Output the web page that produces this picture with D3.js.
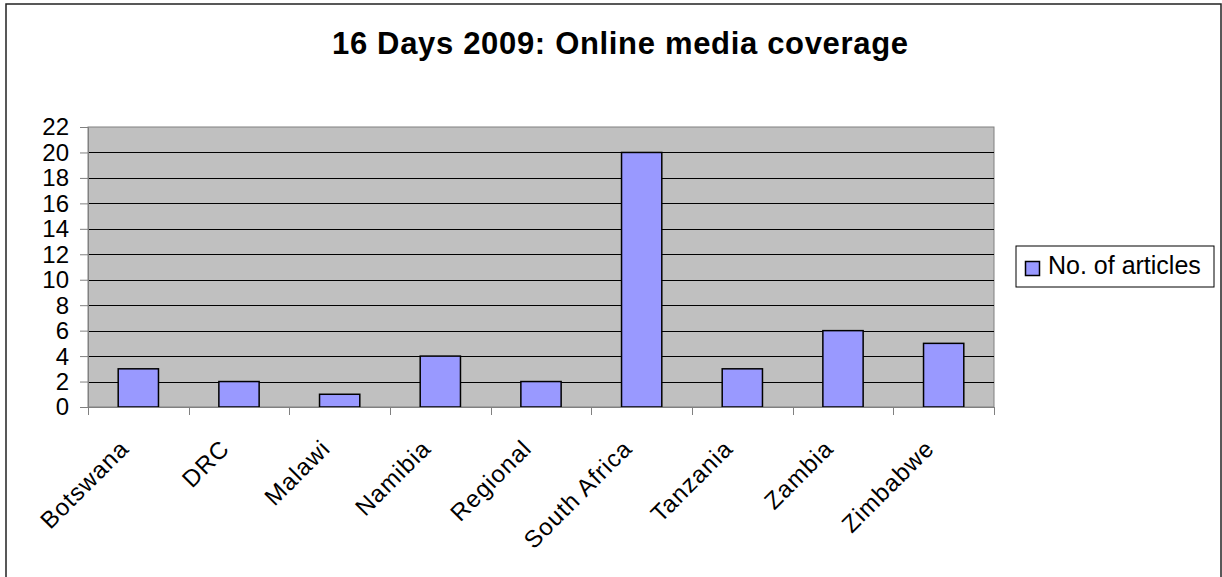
<!DOCTYPE html>
<html>
<head>
<meta charset="utf-8">
<script src="https://cdn.jsdelivr.net/npm/d3@7"></script>
<style>
  body { margin: 0; background: #fff; }
  text { font-family: "Liberation Sans", Arial, sans-serif; fill: #000; }
</style>
</head>
<body>
<div id="chart"></div>
<script>
const categories = ["Botswana", "DRC", "Malawi", "Namibia", "Regional", "South Africa", "Tanzania", "Zambia", "Zimbabwe"];
const articles = [3, 2, 1, 4, 2, 20, 3, 6, 5];
const yTicks = [0, 2, 4, 6, 8, 10, 12, 14, 16, 18, 20, 22];
const seriesName = "No. of articles";
const title = "16 Days 2009: Online media coverage";

const width = 1222;
const height = 577;
const plot = { left: 88, right: 994, top: 127, bottom: 407 };

const svg = d3.select("#chart")
  .append("svg")
  .attr("width", width)
  .attr("height", height);

// outer frame
svg.append("rect")
  .attr("x", 6)
  .attr("y", 4)
  .attr("width", 1215)
  .attr("height", 600)
  .attr("fill", "none")
  .attr("stroke", "#222")
  .attr("stroke-width", 1.5);

// title
svg.append("text")
  .attr("x", 332)
  .attr("y", 54)
  .attr("textLength", 576)
  .attr("lengthAdjust", "spacing")
  .style("font-size", "31px")
  .style("font-weight", "bold")
  .text(title);

const x = d3.scaleBand()
  .domain(categories)
  .range([plot.left, plot.right])
  .paddingInner(0.6)
  .paddingOuter(0.3);

const y = d3.scaleLinear()
  .domain([0, 22])
  .range([plot.bottom, plot.top]);

// plot background
svg.append("rect")
  .attr("x", plot.left)
  .attr("y", plot.top)
  .attr("width", plot.right - plot.left)
  .attr("height", plot.bottom - plot.top)
  .attr("fill", "#c0c0c0")
  .attr("stroke", "#808080")
  .attr("stroke-width", 1);

// gridlines
svg.append("g")
  .selectAll("line")
  .data(yTicks.filter((t) => t > 0 && t < 22))
  .join("line")
  .attr("x1", plot.left)
  .attr("x2", plot.right)
  .attr("y1", (d) => Math.round(y(d)) + 0.5)
  .attr("y2", (d) => Math.round(y(d)) + 0.5)
  .attr("stroke", "#000")
  .attr("stroke-width", 1);

// bars
svg.append("g")
  .selectAll("rect")
  .data(articles)
  .join("rect")
  .attr("x", (d, i) => x(categories[i]))
  .attr("y", (d) => y(d))
  .attr("width", x.bandwidth())
  .attr("height", (d) => y(0) - y(d))
  .attr("fill", "#9999ff")
  .attr("stroke", "#000")
  .attr("stroke-width", 1.5);

// y axis
const yAxis = svg.append("g")
  .attr("transform", `translate(${plot.left},0)`)
  .call(d3.axisLeft(y).tickValues(yTicks).tickSize(8).tickPadding(11));
yAxis.select(".domain").attr("stroke", "#808080");
yAxis.selectAll(".tick line").attr("stroke", "#808080");
yAxis.selectAll(".tick text")
  .style("font-size", "24px")
  .attr("dy", "0.33em")
  .attr("font-family", null);

// x axis: ticks on category boundaries
const step = x.step();
const boundaries = d3.range(categories.length + 1).map((i) => plot.left + i * step);
svg.append("line")
  .attr("x1", plot.left)
  .attr("x2", plot.right)
  .attr("y1", plot.bottom + 0.5)
  .attr("y2", plot.bottom + 0.5)
  .attr("stroke", "#808080");
svg.append("g")
  .selectAll("line")
  .data(boundaries)
  .join("line")
  .attr("x1", (d) => Math.round(d) + 0.5)
  .attr("x2", (d) => Math.round(d) + 0.5)
  .attr("y1", plot.bottom)
  .attr("y2", plot.bottom + 8)
  .attr("stroke", "#808080");

// rotated category labels
svg.append("g")
  .selectAll("text")
  .data(categories)
  .join("text")
  .attr("transform", (d) => {
    const cx = x(d) + x.bandwidth() / 2;
    return `translate(${cx - 8},${plot.bottom + 43}) rotate(-45)`;
  })
  .attr("text-anchor", "end")
  .style("font-size", "24px")
  .style("letter-spacing", "1px")
  .text((d) => d);

// legend
const legend = svg.append("g");
legend.append("rect")
  .attr("x", 1016)
  .attr("y", 246)
  .attr("width", 198)
  .attr("height", 41)
  .attr("fill", "#fff")
  .attr("stroke", "#000")
  .attr("stroke-width", 1);
legend.append("rect")
  .attr("x", 1025.5)
  .attr("y", 261.5)
  .attr("width", 14)
  .attr("height", 14)
  .attr("fill", "#9999ff")
  .attr("stroke", "#000")
  .attr("stroke-width", 1.5);
legend.append("text")
  .attr("x", 1048)
  .attr("y", 274)
  .style("font-size", "25px")
  .text(seriesName);
</script>
</body>
</html>
